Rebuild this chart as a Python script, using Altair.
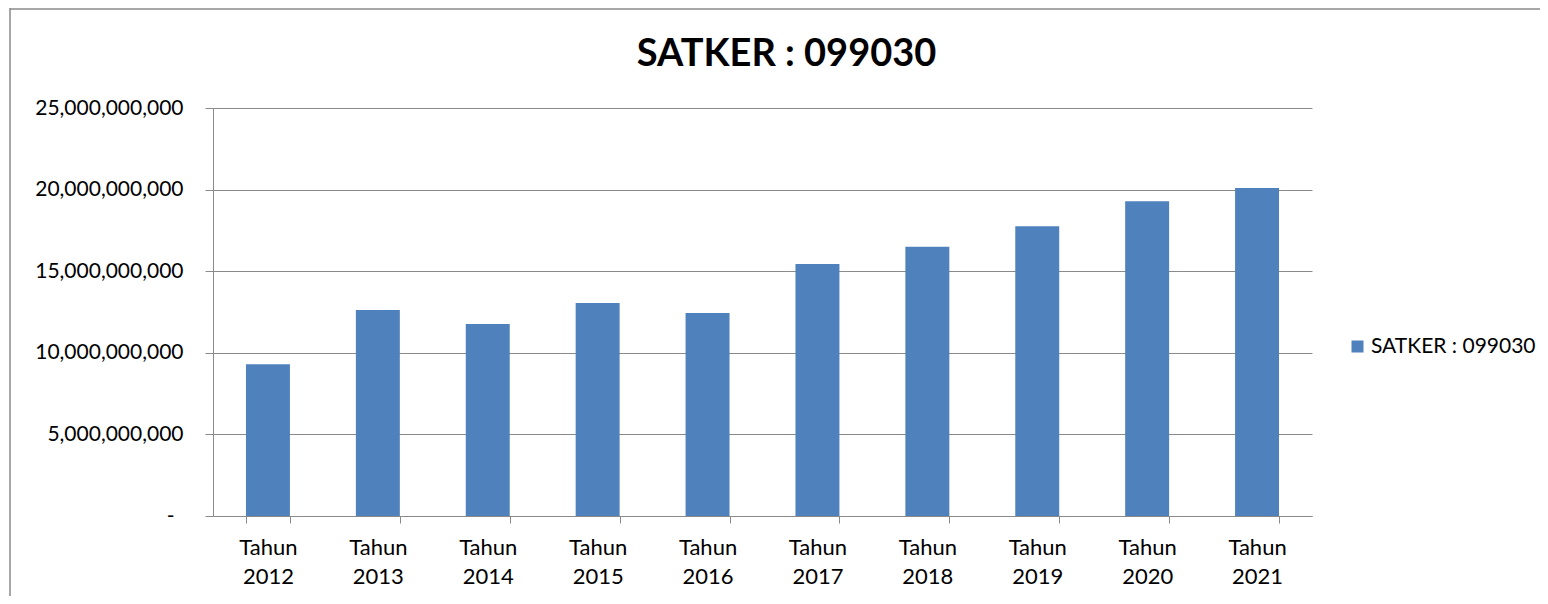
import altair as alt
import pandas as pd

categories = ["Tahun 2012", "Tahun 2013", "Tahun 2014", "Tahun 2015", "Tahun 2016",
              "Tahun 2017", "Tahun 2018", "Tahun 2019", "Tahun 2020", "Tahun 2021"]
values = [9.30e9, 12.62e9, 11.76e9, 13.05e9, 12.44e9, 15.44e9, 16.50e9, 17.75e9, 19.28e9, 20.10e9]
series_name = "SATKER : 099030"
y_ticks = [0, 5e9, 10e9, 15e9, 20e9, 25e9]

df = pd.DataFrame({"kategori": categories, "nilai": values, "series": [series_name] * len(categories)})

FONT = "Lato"
GRID = "#8a8a8a"

bars = alt.Chart(df).mark_bar(color="#4F81BD").encode(
    x=alt.X("kategori:N", sort=categories,
            scale=alt.Scale(paddingInner=0.6, paddingOuter=0.3),
            axis=alt.Axis(title=None, labelAngle=0, labelExpr="split(datum.label, ' ')",
                          labelFont=FONT, labelFontSize=22, labelColor="#000000",
                          labelLineHeight=29, labelPadding=14,
                          tickBand="extent", tickSize=7, tickColor=GRID, domainColor=GRID,
                          grid=False)),
    y=alt.Y("nilai:Q", scale=alt.Scale(domain=[0, 25e9], nice=False),
            axis=alt.Axis(title=None, values=y_ticks,
                          labelExpr="datum.value == 0 ? '-' : format(datum.value, ',')",
                          labelFont=FONT, labelFontSize=21, labelColor="#000000",
                          labelPadding={"condition": {"test": "datum.value == 0", "value": 31},
                                        "value": 22},
                          tickSize=8, tickColor=GRID, domainColor=GRID,
                          gridColor=GRID, gridOpacity=1)),
    color=alt.Color("series:N", scale=alt.Scale(range=["#4F81BD"]),
                    legend=alt.Legend(title=None, orient="none", legendX=1134, legendY=228,
                                      symbolType="square", symbolSize=144, symbolStrokeWidth=0,
                                      labelFont=FONT, labelFontSize=21, labelColor="#000000",
                                      labelOffset=3, labelLimit=400, padding=0)),
)

one = pd.DataFrame({"a": [0]})
frame_top = alt.Chart(one).mark_rule(color=GRID, strokeWidth=1.5).encode(
    x=alt.value(-203), x2=alt.value(1330), y=alt.value(-99))
frame_left = alt.Chart(one).mark_rule(color=GRID, strokeWidth=1.5).encode(
    x=alt.value(-203), y=alt.value(-100), y2=alt.value(490))

chart = alt.layer(frame_top, frame_left, bars).properties(
    width=1099, height=408,
    title=alt.TitleParams(series_name, font=FONT, fontSize=38, fontWeight="bold",
                          color="#000000", anchor="middle", dx=24, offset=-67),
    autosize=alt.AutoSizeParams(type="none"),
    padding={"left": 205, "top": 100, "right": 228, "bottom": 80},
).configure_view(stroke=None)

chart.save("out.html", embed_options={"renderer": "svg", "actions": False})
